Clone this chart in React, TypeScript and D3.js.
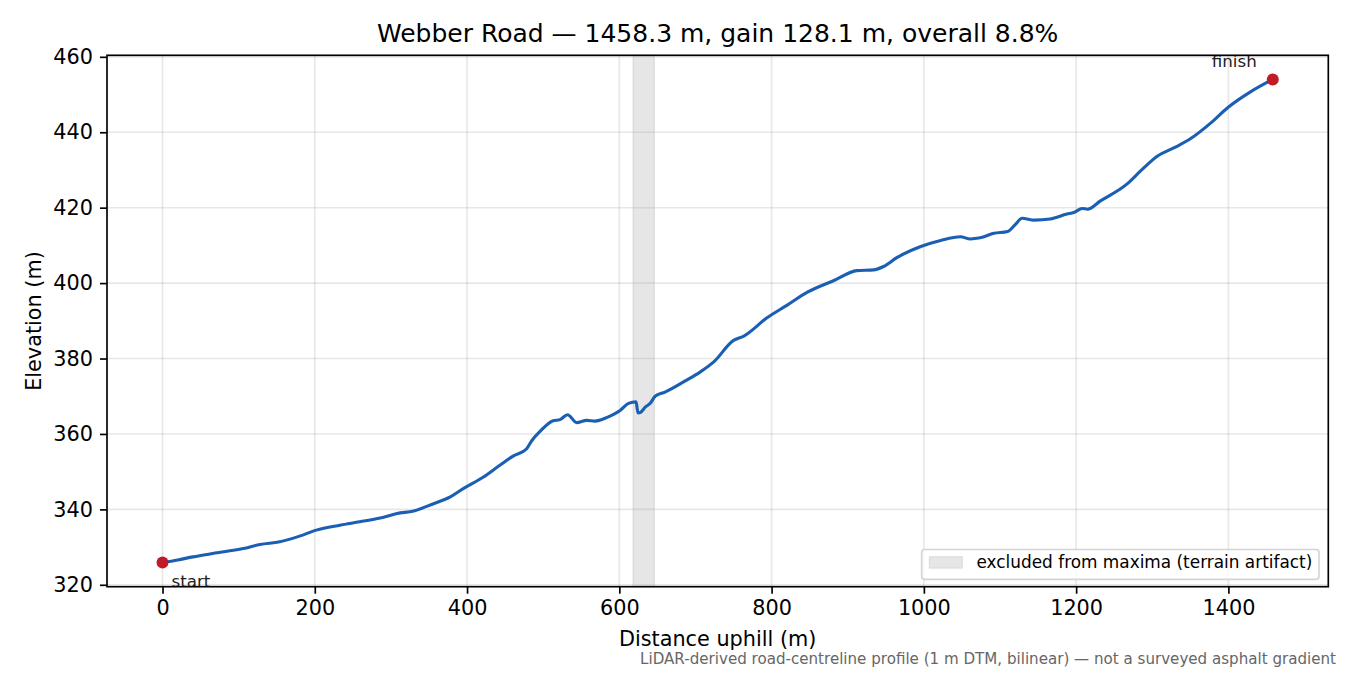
import React, { useEffect, useRef } from 'react';
import * as d3 from 'd3';

// profile samples (distance uphill in m, elevation in m)
const distance = [
  0, 20, 40, 66, 106, 128, 154, 180, 202, 233, 259, 286, 308, 330, 356, 378, 395, 421, 443, 461,
  478, 485, 496, 513, 522, 532, 544, 557, 568, 584, 601, 612, 622, 624.5, 627.5, 634, 641, 647,
  660, 686, 706, 724, 750, 763, 794, 820, 847, 882, 912, 934, 947, 965, 996, 1022, 1048, 1061,
  1074, 1092, 1110, 1120, 1129, 1145, 1166, 1188, 1197, 1208, 1215, 1232, 1267, 1285, 1307,
  1329, 1351, 1377, 1399, 1429, 1458.3,
];
const elevation = [
  325.9, 326.6, 327.4, 328.3, 329.6, 330.7, 331.4, 332.9, 334.5, 335.8, 336.7, 337.7, 338.9,
  339.6, 341.5, 343.3, 345.5, 348.5, 351.7, 354.2, 356.0, 358.2, 360.7, 363.5, 363.8, 365.1,
  363.0, 363.6, 363.4, 364.4, 366.2, 368.1, 368.5, 365.6, 365.7, 367.1, 368.2, 370.0, 371.1,
  374.0, 376.4, 379.1, 384.8, 385.9, 390.8, 394.1, 397.6, 400.7, 403.3, 403.5, 404.4, 406.8,
  409.7, 411.3, 412.3, 411.7, 412.0, 413.2, 413.7, 415.5, 417.2, 416.7, 417.0, 418.3, 418.7,
  419.8, 419.6, 421.8, 426.3, 429.8, 433.7, 435.9, 438.4, 442.5, 446.5, 450.7, 454.0,
];
const excludedSpan = [618, 646];
const xTicks = [0, 200, 400, 600, 800, 1000, 1200, 1400];
const yTicks = [320, 340, 360, 380, 400, 420, 440, 460];

const titleText = 'Webber Road — 1458.3 m, gain 128.1 m, overall 8.8%';
const legendText = 'excluded from maxima (terrain artifact)';
const footerText =
  'LiDAR-derived road-centreline profile (1 m DTM, bilinear) — not a surveyed asphalt gradient';

const W = 1350;
const H = 675;
const FONT = '"DejaVu Sans", sans-serif';

const App: React.FC = () => {
  const svgRef = useRef<SVGSVGElement>(null);

  useEffect(() => {
    if (!svgRef.current) return;
    const svg = d3.select(svgRef.current);
    svg.selectAll('*').remove();

    const left = 107, right = 1328.3, top = 55.3, bottom = 586.7;

    const pts = distance.map((d, i) => ({ d, e: elevation[i] }));
    const [x0, x1] = d3.extent(distance) as [number, number];
    const [y0, y1] = d3.extent(elevation) as [number, number];
    const xPad = (x1 - x0) * 0.05;
    const yPad = (y1 - y0) * 0.05;

    const x = d3.scaleLinear().domain([x0 - xPad, x1 + xPad]).range([left, right]);
    const y = d3.scaleLinear().domain([y0 - yPad, y1 + yPad]).range([bottom, top]);

    svg.append('rect').attr('width', W).attr('height', H).attr('fill', '#fff');

    // excluded band
    svg.append('rect')
      .attr('x', x(excludedSpan[0]))
      .attr('y', top)
      .attr('width', x(excludedSpan[1]) - x(excludedSpan[0]))
      .attr('height', bottom - top)
      .attr('fill', '#808080')
      .attr('fill-opacity', 0.2)
      .attr('stroke', '#808080')
      .attr('stroke-opacity', 0.2)
      .attr('stroke-width', 1.2);

    // grid
    const grid = svg.append('g').attr('stroke', '#b0b0b0').attr('stroke-opacity', 0.3).attr('stroke-width', 1.6);
    xTicks.forEach(t => {
      grid.append('line').attr('x1', x(t)).attr('x2', x(t)).attr('y1', top).attr('y2', bottom);
    });
    yTicks.forEach(t => {
      grid.append('line').attr('x1', left).attr('x2', right).attr('y1', y(t)).attr('y2', y(t));
    });

    // profile line
    const line = d3.line<{ d: number; e: number }>()
      .x(p => x(p.d))
      .y(p => y(p.e))
      .curve(d3.curveMonotoneX);

    svg.append('path')
      .datum(pts)
      .attr('d', line)
      .attr('fill', 'none')
      .attr('stroke', '#1a5fb4')
      .attr('stroke-width', 3.1)
      .attr('stroke-linejoin', 'round')
      .attr('stroke-linecap', 'round');

    // endpoints
    const ends = [pts[0], pts[pts.length - 1]];
    svg.selectAll('circle.end')
      .data(ends)
      .enter()
      .append('circle')
      .attr('class', 'end')
      .attr('cx', p => x(p.d))
      .attr('cy', p => y(p.e))
      .attr('r', 6)
      .attr('fill', '#c01c28');

    svg.append('text')
      .attr('x', x(ends[0].d) + 9)
      .attr('y', y(ends[0].e) + 24)
      .attr('font-family', FONT)
      .attr('font-size', 16.7)
      .attr('fill', '#222')
      .text('start');

    svg.append('text')
      .attr('x', x(ends[1].d) - 16)
      .attr('y', y(ends[1].e) - 12)
      .attr('text-anchor', 'end')
      .attr('font-family', FONT)
      .attr('font-size', 16.7)
      .attr('fill', '#222')
      .text('finish');

    // axes
    const xAxis = svg.append('g')
      .attr('transform', `translate(0,${bottom})`)
      .call(d3.axisBottom(x).tickValues(xTicks).tickSize(7).tickPadding(7).tickFormat(d3.format('d')));
    const yAxis = svg.append('g')
      .attr('transform', `translate(${left},0)`)
      .call(d3.axisLeft(y).tickValues(yTicks).tickSize(7).tickPadding(7).tickFormat(d3.format('d')));

    [xAxis, yAxis].forEach(a => {
      a.select('.domain').remove();
      a.selectAll('line').attr('stroke', '#000').attr('stroke-width', 1.67);
      a.selectAll('text')
        .attr('font-family', FONT)
        .attr('font-size', 20.8)
        .attr('fill', '#000');
      a.attr('font-family', null).attr('font-size', null);
    });

    // spines
    svg.append('rect')
      .attr('x', left)
      .attr('y', top)
      .attr('width', right - left)
      .attr('height', bottom - top)
      .attr('fill', 'none')
      .attr('stroke', '#000')
      .attr('stroke-width', 1.67);

    // legend
    const lg = svg.append('g');
    lg.append('rect')
      .attr('x', 921.7).attr('y', 549.5)
      .attr('width', 397.3).attr('height', 29.8)
      .attr('rx', 3)
      .attr('fill', '#fff').attr('fill-opacity', 0.8)
      .attr('stroke', '#d4d4d4').attr('stroke-width', 1.67);
    lg.append('rect')
      .attr('x', 929.3).attr('y', 556.7)
      .attr('width', 33).attr('height', 11.5)
      .attr('fill', '#808080').attr('fill-opacity', 0.2)
      .attr('stroke', '#808080').attr('stroke-opacity', 0.2);
    lg.append('text')
      .attr('x', 976.5).attr('y', 568)
      .attr('font-family', FONT)
      .attr('font-size', 16.9)
      .attr('fill', '#000')
      .text(legendText);

    // labels
    svg.append('text')
      .attr('x', (left + right) / 2).attr('y', 42)
      .attr('text-anchor', 'middle')
      .attr('font-family', FONT)
      .attr('font-size', 25)
      .attr('fill', '#000')
      .text(titleText);

    svg.append('text')
      .attr('x', (left + right) / 2).attr('y', 646)
      .attr('text-anchor', 'middle')
      .attr('font-family', FONT)
      .attr('font-size', 20.8)
      .attr('fill', '#000')
      .text('Distance uphill (m)');

    svg.append('text')
      .attr('transform', `translate(41,${(top + bottom) / 2}) rotate(-90)`)
      .attr('text-anchor', 'middle')
      .attr('font-family', FONT)
      .attr('font-size', 20.8)
      .attr('fill', '#000')
      .text('Elevation (m)');

    svg.append('text')
      .attr('x', 1336).attr('y', 664)
      .attr('text-anchor', 'end')
      .attr('font-family', FONT)
      .attr('font-size', 15.1)
      .attr('fill', '#666')
      .text(footerText);
  }, []);

  return (
    <div style={{ position: 'absolute', left: 0, top: 0 }}>
      <svg ref={svgRef} width={W} height={H} style={{ display: 'block' }} />
    </div>
  );
};

export default App;
